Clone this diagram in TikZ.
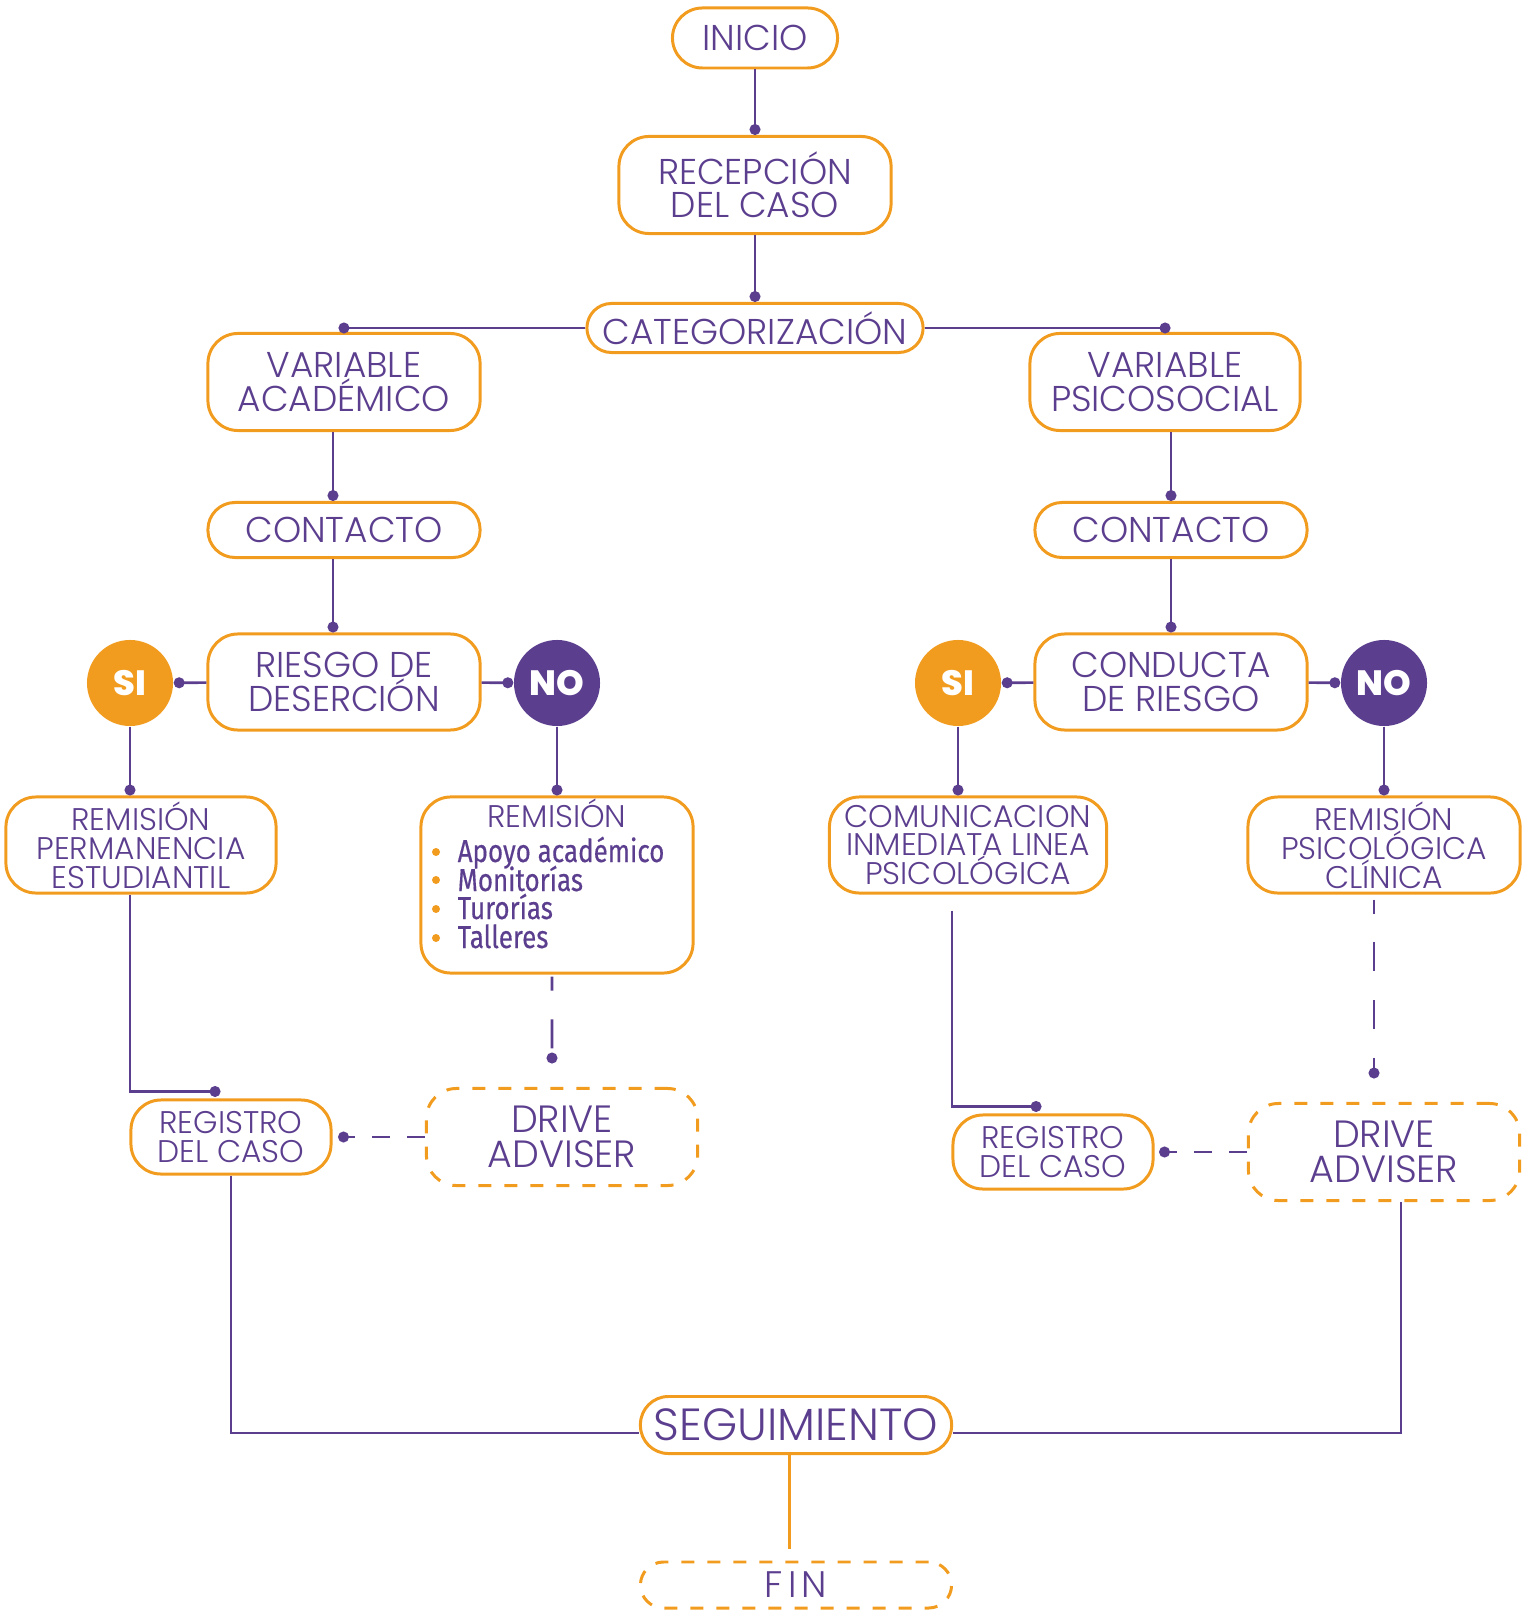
\documentclass[tikz,border=0pt]{standalone}
\usepackage{fontspec}
\setmainfont{Poppins}[UprightFont=* Light, BoldFont=* ExtraBold]
\newfontfamily\listafont{Fira Sans}[FakeStretch=0.82,FakeBold=0.4]
\usetikzlibrary{arrows.meta}
\definecolor{naranja}{RGB}{242,156,31}
\definecolor{morado}{RGB}{92,62,143}

\begin{document}
\begin{tikzpicture}[x=0.01cm, y=-0.01cm,
    caja/.style={draw=naranja, line width=0.85pt, rounded corners=0.3cm, fill=white,
      text=morado, align=center, inner sep=0pt, font=\fontsize{10.2}{9.5}\selectfont},
    cajita/.style={caja, font=\fontsize{8.9}{8.2}\selectfont},
    cajapunteada/.style={caja, dash pattern=on 3.7pt off 3.7pt},
    texto/.style={text=morado, inner sep=0pt},
    lista/.style={texto, font=\listafont\fontsize{9}{9}\selectfont},
    circsi/.style={circle, fill=naranja, text=white, minimum size=0.86cm, inner sep=0pt,
      font=\fontsize{10}{10}\selectfont\bfseries},
    circno/.style={circsi, fill=morado},
    enlace/.style={draw=morado, line width=0.75pt, -{Circle[length=3.1pt]}},
    enlacepunteado/.style={enlace, dash pattern=on 8.2pt off 8.2pt, dash phase=4.2pt},
    enlacecorto/.style={enlace, dash pattern=on 5pt off 5pt},
    linea/.style={draw=morado, line width=0.75pt}]

  %% Fondo
  \useasboundingbox (0,0) rectangle (1529,1610);

  % Tronco central
  \node[caja, minimum width=1.65cm, minimum height=0.6cm] (inicio) at (755,38) {INICIO};
  \node[caja, minimum width=2.72cm, minimum height=0.97cm] (recep) at (755,185) {RECEPCIÓN\\DEL CASO};
  \node[caja, rounded corners=0.245cm, minimum width=3.36cm, minimum height=0.49cm] (cat) at (755,328) {CATEGORIZACIÓN};

  % Rama académica
  \node[caja, minimum width=2.72cm, minimum height=0.97cm] (varA) at (344,382) {VARIABLE\\ACADÉMICO};
  \node[caja, rounded corners=0.27cm, minimum width=2.72cm, minimum height=0.55cm] (contA) at (344,530) {CONTACTO};
  \node[caja, minimum width=2.72cm, minimum height=0.96cm] (riesgo) at (344,682) {RIESGO DE\\DESERCIÓN};
  \node[circsi] (siA) at (130,683) {SI};
  \node[circno] (noA) at (557,683) {NO};
  \node[cajita, minimum width=2.70cm, minimum height=0.96cm] (remPerm) at (141,845) {REMISIÓN\\PERMANENCIA\\ESTUDIANTIL};
  \node[caja, minimum width=2.72cm, minimum height=1.76cm] (remList) at (557,885) {};
  \node[texto, font=\fontsize{8.9}{8.9}\selectfont, anchor=base] (remTit) at (557,827) {REMISIÓN};
  \fill[naranja] (436,852) circle (0.04cm);
  \fill[naranja] (436,880) circle (0.04cm);
  \fill[naranja] (436,909) circle (0.04cm);
  \fill[naranja] (436,938) circle (0.04cm);
  \node[lista, anchor=base west] (item1) at (457,862) {Apoyo académico};
  \node[lista, anchor=base west] (item2) at (457,891) {Monitorías};
  \node[lista, anchor=base west] (item3) at (457,919) {Turorías};
  \node[lista, anchor=base west] (item4) at (457,948) {Talleres};
  \node[cajita, minimum width=2.00cm, minimum height=0.74cm] (regA) at (231,1137) {REGISTRO\\DEL CASO};
  \node[cajapunteada, font=\fontsize{10.8}{9.8}\selectfont, minimum width=2.71cm, minimum height=0.97cm] (driveA) at (562,1137) {DRIVE\\ADVISER};

  % Rama psicosocial
  \node[caja, minimum width=2.70cm, minimum height=0.97cm] (varP) at (1165,382) {VARIABLE\\PSICOSOCIAL};
  \node[caja, rounded corners=0.27cm, minimum width=2.72cm, minimum height=0.55cm] (contP) at (1171,530) {CONTACTO};
  \node[caja, minimum width=2.72cm, minimum height=0.96cm] (conducta) at (1171,682) {CONDUCTA\\DE RIESGO};
  \node[circsi] (siP) at (958,683) {SI};
  \node[circno] (noP) at (1384,683) {NO};
  \node[cajita, minimum width=2.77cm, minimum height=0.96cm] (comun) at (968,845) {COMUNICACION\\INMEDIATA LINEA\\PSICOLÓGICA};
  \node[cajita, minimum width=2.72cm, minimum height=0.96cm] (remPsi) at (1384,845) {REMISIÓN\\PSICOLÓGICA\\CLÍNICA};
  \node[cajita, minimum width=2.00cm, minimum height=0.74cm] (regP) at (1053,1152) {REGISTRO\\DEL CASO};
  \node[cajapunteada, font=\fontsize{10.8}{9.8}\selectfont, minimum width=2.71cm, minimum height=0.97cm] (driveP) at (1384,1152) {DRIVE\\ADVISER};

  % Cierre
  \node[caja, rounded corners=0.28cm, minimum width=3.11cm, minimum height=0.57cm,
    font=\fontsize{12.8}{12.8}\selectfont] (seg) at (796,1425) {SEGUIMIENTO};
  \node[cajapunteada, rounded corners=0.23cm, minimum width=3.11cm, minimum height=0.46cm,
    font=\fontsize{10.5}{10.5}\selectfont\addfontfeatures{LetterSpace=14}] (fin) at (796,1585) {FIN};

  % Conectores
  \draw[enlace] (inicio) -- (recep);
  \draw[enlace] (recep) -- (cat);
  \draw[enlace] (cat.west) -- ([xshift=-0.055cm]cat.west -| varA.north);
  \draw[enlace] (cat.east) -- ([xshift=0.055cm]cat.east -| varP.north);

  \draw[enlace] ([xshift=-0.11cm]varA.south) -- ([xshift=-0.11cm]contA.north);
  \draw[enlace] ([xshift=-0.11cm]contA.south) -- ([xshift=-0.11cm]riesgo.north);
  \draw[enlace] (riesgo) -- (siA);
  \draw[enlace] (riesgo) -- (noA);
  \draw[enlace] (siA) -- (siA |- remPerm.north);
  \draw[enlace] (noA) -- (remList);
  \draw[enlace] (remPerm.south -| siA) |- ([xshift=-0.105cm,yshift=0.07cm]regA.north);
  \draw[enlacepunteado] ([xshift=-0.05cm,yshift=-0.02cm]remList.south) -- ([xshift=-0.10cm,yshift=0.235cm]driveA.north);
  \draw[enlacecorto] (driveA.west) -- ([xshift=0.055cm]regA.east);

  \draw[enlace] (varP.south -| contP.north) -- (contP.north);
  \draw[enlace] (contP) -- (conducta);
  \draw[enlace] (conducta) -- (siP);
  \draw[enlace] (conducta) -- (noP);
  \draw[enlace] (siP) -- (siP |- comun.north);
  \draw[enlace] (noP) -- (remPsi);
  \draw[enlace] ([xshift=-0.16cm,yshift=-0.16cm]comun.south) |- ([xshift=-0.115cm,yshift=0.07cm]regP.north);
  \draw[enlacepunteado] ([xshift=-0.10cm,yshift=-0.05cm]remPsi.south) -- ([xshift=-0.10cm,yshift=0.235cm]driveP.north);
  \draw[enlacecorto] (driveP.west) -- ([xshift=0.045cm]regP.east);

  \draw[linea] (regA.south) |- ([yshift=-0.08cm]seg.west);
  \draw[linea] ([xshift=0.17cm]driveP.south) |- ([yshift=-0.08cm]seg.east);
  \draw[naranja, line width=0.85pt] ([xshift=-0.07cm]seg.south) -- ([xshift=-0.07cm,yshift=0.12cm]seg.south |- fin.north);

\end{tikzpicture}
\end{document}
